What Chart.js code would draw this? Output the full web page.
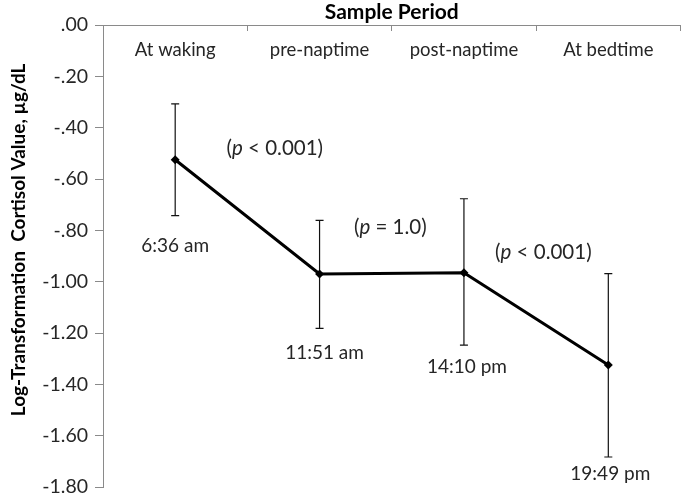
<!DOCTYPE html>
<html>
<head>
<meta charset="utf-8">
<script src="https://cdn.jsdelivr.net/npm/chart.js@4.4.1/dist/chart.umd.min.js"></script>
<style>
  html, body { margin: 0; padding: 0; background: #fff; }
</style>
</head>
<body>
<canvas id="cortisolChart" width="685" height="495"></canvas>
<script>
// values
const periods = ['At waking', 'pre-naptime', 'post-naptime', 'At bedtime'];
const cortisol = [-0.525, -0.970, -0.965, -1.325];
const errUpper = [-0.307, -0.761, -0.677, -0.969];
const errLower = [-0.743, -1.182, -1.247, -1.683];
const clockTimes = ['6:36 am', '11:51 am', '14:10 pm', '19:49 pm'];
const pLabels = ['< 0.001', '= 1.0', '< 0.001'];
const yMin = -1.8, yMax = 0, yStep = 0.2;

const FONT = 'Lato';
const TEXT = '#262626';
const AXIS = '#8a8a8a';

function fmtTick(v) {
    let s = Number(v).toFixed(2);
    return s.replace(/^(-?)0\./, '$1.');
}

// error bars drawn below the line, through the chart scales
const errorBars = {
    id: 'errorBars',
    beforeDatasetsDraw(chart) {
        const ctx = chart.ctx, x = chart.scales.x, y = chart.scales.y;
        ctx.save();
        ctx.strokeStyle = '#111';
        ctx.lineWidth = 1.2;
        for (let i = 0; i < cortisol.length; i++) {
            const px = x.getPixelForValue(i);
            const top = y.getPixelForValue(errUpper[i]);
            const bot = y.getPixelForValue(errLower[i]);
            ctx.beginPath();
            ctx.moveTo(px, top); ctx.lineTo(px, bot);
            ctx.moveTo(px - 4, top); ctx.lineTo(px + 4, top);
            ctx.moveTo(px - 4, bot); ctx.lineTo(px + 4, bot);
            ctx.stroke();
        }
        ctx.restore();
    }
};

// clock times under each bar and p-values between points
const notes = {
    id: 'notes',
    afterDatasetsDraw(chart) {
        const ctx = chart.ctx, x = chart.scales.x, y = chart.scales.y;
        ctx.save();
        ctx.fillStyle = TEXT;
        ctx.textBaseline = 'middle';
        ctx.textAlign = 'center';
        ctx.font = '19px ' + FONT;
        const timeShift = [[0, 30], [5, 24], [3, 22], [2, 17]];
        clockTimes.forEach((t, i) => {
            ctx.fillText(t, x.getPixelForValue(i) + timeShift[i][0],
                y.getPixelForValue(errLower[i]) + timeShift[i][1]);
        });
        // placement of the p-value notes, in axis units
        const pPos = [[0.69, -0.482], [1.49, -0.79], [2.55, -0.885]];
        ctx.textAlign = 'left';
        pLabels.forEach((lab, i) => {
            const cx = x.getPixelForValue(pPos[i][0]);
            const cy = y.getPixelForValue(pPos[i][1]);
            const norm = '20.5px ' + FONT, ital = 'italic 20.5px ' + FONT;
            ctx.font = norm;
            const w1 = ctx.measureText('(').width;
            const w3 = ctx.measureText(' ' + lab + ')').width;
            ctx.font = ital;
            const w2 = ctx.measureText('p').width;
            let sx = cx - (w1 + w2 + w3) / 2;
            ctx.font = norm; ctx.fillText('(', sx, cy);
            ctx.font = ital; ctx.fillText('p', sx + w1, cy);
            ctx.font = norm; ctx.fillText(' ' + lab + ')', sx + w1 + w2, cy);
        });
        ctx.restore();
    }
};

const ctx = document.getElementById('cortisolChart').getContext('2d');
const chart = new Chart(ctx, {
    type: 'line',
    data: {
        labels: periods,
        datasets: [{
            label: 'cortisol',
            data: cortisol,
            borderColor: '#000',
            backgroundColor: '#000',
            borderWidth: 3,
            pointStyle: 'rectRot',
            pointRadius: 4.5,
            pointBorderWidth: 0,
            tension: 0
        }]
    },
    options: {
        responsive: false,
        animation: false,
        layout: { padding: { top: 0, right: 2, bottom: 0, left: 0 } },
        plugins: {
            legend: { display: false },
            tooltip: { enabled: false }
        },
        scales: {
            x: {
                position: 'top',
                offset: true,
                grid: { offset: true, drawOnChartArea: false, tickLength: -6, color: AXIS },
                border: { color: AXIS },
                ticks: { mirror: true, padding: 14, color: TEXT, font: { family: FONT, size: 18.5 } },
                title: {
                    display: true, text: 'Sample Period', color: '#000',
                    font: { family: FONT, size: 21, weight: 'bold' },
                    padding: { top: 0, bottom: 0 }
                },
                afterFit(scale) { scale.height = 25; }
            },
            y: {
                min: yMin,
                max: yMax,
                grid: { drawOnChartArea: false, tickLength: 8, color: AXIS },
                border: { color: AXIS },
                ticks: {
                    stepSize: yStep, padding: 7, color: TEXT,
                    font: { family: FONT, size: 19.5, lineHeight: 0.1 },
                    callback: (v) => fmtTick(v)
                },
                title: {
                    display: true, text: '       Log-Transformation  Cortisol Value, µg/dL', color: '#000',
                    font: { family: FONT, size: 19, weight: 'bold' },
                    padding: { top: 7, bottom: 0 }
                },
                afterFit(scale) { scale.width = 103; }
            }
        }
    },
    plugins: [errorBars, notes]
});
</script>
</body>
</html>
